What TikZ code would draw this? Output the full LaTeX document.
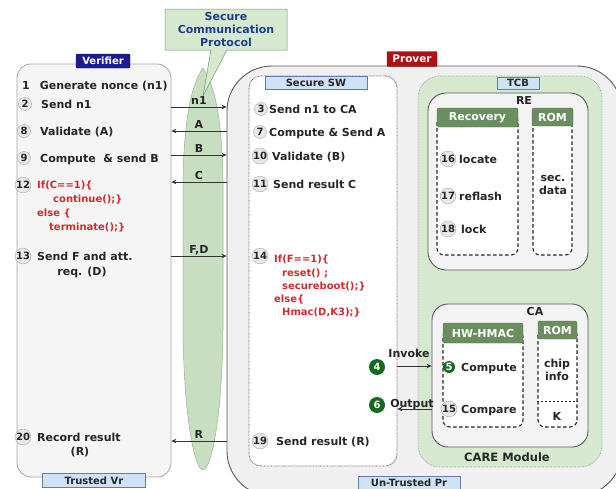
\documentclass[tikz,border=0pt]{standalone}
\usepackage{fontspec}
\setmainfont{DejaVu Sans}
\usetikzlibrary{shapes.callouts,arrows.meta}

\definecolor{codered}{RGB}{205,45,50}
\definecolor{navyfill}{RGB}{28,28,140}
\definecolor{provred}{RGB}{175,18,22}
\definecolor{tagblue}{RGB}{207,226,243}
\definecolor{tagedge}{RGB}{95,125,165}
\definecolor{tcbgreen}{RGB}{214,233,207}
\definecolor{changreen}{RGB}{200,222,192}
\definecolor{chanedge}{RGB}{150,180,145}
\definecolor{hdrgreen}{RGB}{106,142,96}
\definecolor{badgegreen}{RGB}{24,105,30}
\definecolor{calloutblue}{RGB}{30,60,140}
\definecolor{boxgray}{RGB}{243,243,243}

\begin{document}
\begin{tikzpicture}[x=1pt,y=-1pt,
  every node/.style={font=\bfseries\fontsize{11}{13}\selectfont, inner sep=0pt, text=black!85},
  txt/.style={anchor=west, text height=8pt, text depth=0pt},
  ctr/.style={anchor=center, text height=8pt, text depth=0pt},
  code/.style={anchor=west, text height=7.5pt, text depth=0pt, text=codered,
    font=\bfseries\fontsize{10}{12}\selectfont},
  num/.style={circle, draw=gray!70, fill=gray!18, minimum size=13pt,
    font=\bfseries\fontsize{10}{12}\selectfont},
  gnum/.style={circle, fill=badgegreen, text=white, minimum size=16pt,
    font=\bfseries\fontsize{10}{12}\selectfont},
  tag/.style={draw=tagedge, fill=tagblue, font=\bfseries\fontsize{10}{12}\selectfont},
  hdr/.style={fill=hdrgreen, draw=hdrgreen!80!black, text=white, rounded corners=1.5pt},
  dashbody/.style={draw=black!85, fill=white, line width=1.1pt,
    dash pattern=on 3.5pt off 2.5pt, rounded corners=7pt},
  inner/.style={draw=black!65, line width=0.9pt, fill=boxgray},
  msg/.style={draw=black!80, line width=0.8pt, -{Stealth[length=5pt,width=4.5pt]}},
  lbl/.style={midway, above=2.5pt, text height=8pt, text depth=0pt},
]
\useasboundingbox (0,0) rectangle (616,488);
\clip (0,0) rectangle (616,488);
\fill[white] (0,0) rectangle (616,488);

% ---------- the two parties ----------
\node[draw=gray!70, fill=black!4, line width=0.8pt, rounded corners=14pt,
  minimum width=154pt, minimum height=413pt] (vr) at (94,270.5) {};
\node[draw=black!65, fill=black!6, line width=0.9pt, rounded corners=45pt,
  minimum width=395pt, minimum height=430pt] (pr) at (424.5,281) {};

\node[fill=navyfill, draw=navyfill!70!black, text=white, rounded corners=1pt,
  minimum width=54pt, minimum height=14pt, font=\bfseries\fontsize{10}{12}\selectfont]
  (vlab) at (103,61) {Verifier};
\node[fill=provred, draw=provred!70!black, text=white, rounded corners=1pt,
  minimum width=50pt, minimum height=15pt, font=\bfseries\fontsize{10.5}{12}\selectfont]
  (plab) at (412,59) {Prover};
\node[tag, minimum width=103pt, minimum height=14pt] (tvr) at (94,480.5) {Trusted Vr};
\node[tag, minimum width=102pt, minimum height=13pt] (upr) at (409,483) {Un-Trusted Pr};

% ---------- secure channel ----------
\path[fill=changreen, draw=chanedge, line width=0.5pt]
  (203,68) .. controls (191,85) and (184,120) .. (183,180) -- (183,330)
  .. controls (184,420) and (195,470) .. (203,470)
  .. controls (211,470) and (222,420) .. (223,330) -- (223,180)
  .. controls (222,120) and (215,85) .. (203,68) -- cycle;
\node[rectangle callout, callout absolute pointer={(203,96)}, callout pointer width=16pt,
  fill=tcbgreen, draw=chanedge!80!black, line width=0.5pt, text=calloutblue,
  align=center, minimum width=122pt, minimum height=41pt]
  (scp) at (226,29.5) {Secure\\Communication\\Protocol};

% ---------- prover internals ----------
\node[draw=black!60, line width=0.8pt, dash pattern=on 0.7pt off 0.7pt, fill=white,
  rounded corners=12pt, minimum width=148pt, minimum height=390pt] (sw) at (323,271) {};
\node[tag, minimum width=102pt, minimum height=13pt] (swlab) at (316,83) {Secure SW};

\node[draw=gray!70, line width=0.8pt, dash pattern=on 0.7pt off 0.9pt, fill=tcbgreen,
  rounded corners=22pt, minimum width=184pt, minimum height=391pt] (tcb) at (510,271.5) {};
\node[tag, minimum width=42pt, minimum height=12pt] (tcblab) at (518,83) {TCB};

% recovery engine
\node[inner, rounded corners=18pt, minimum width=160pt, minimum height=177pt] (re) at (508,181.5) {};
\node[ctr] (relab) at (524,100) {RE};
\node[dashbody, minimum width=81pt, minimum height=140pt] (recB) at (477.5,185) {};
\node[dashbody, minimum width=39pt, minimum height=140pt] (romB) at (552.5,185) {};
\node[hdr, minimum width=81pt, minimum height=19pt] (recH) at (477.5,117.5) {Recovery};
\node[hdr, minimum width=41pt, minimum height=18pt] (romH) at (552.5,117) {ROM};

\node[num] (s16) at (448,159) {16}; \node[txt] (t16) at (459,159) {locate};
\node[num] (s17) at (448,196) {17}; \node[txt] (t17) at (459,196) {reflash};
\node[num] (s18) at (448,229) {18}; \node[txt] (t18) at (461,229) {lock};
\node[ctr] (sec1) at (553,177) {sec.};
\node[ctr] (sec2) at (553,190) {data};

% attestation engine
\node[inner, rounded corners=16pt, minimum width=156pt, minimum height=143pt] (ca) at (510,375.5) {};
\node[ctr] (calab) at (535,311) {CA};
\node[dashbody, minimum width=80pt, minimum height=97pt] (hmB) at (483,378.5) {};
\node[dashbody, minimum width=39pt, minimum height=99pt] (rom2B) at (557.5,377.5) {};
\draw[draw=black!85, line width=0.9pt, dash pattern=on 2pt off 2pt]
  (rom2B.west |- 0,401) -- (rom2B.east |- 0,401);
\node[hdr, minimum width=80pt, minimum height=20pt] (hmH) at (483,333) {HW-HMAC};
\node[hdr, minimum width=39pt, minimum height=18pt] (rom2H) at (557.5,330) {ROM};

\node[gnum, minimum size=12pt] (s5) at (449,367) {5}; \node[txt] (t5) at (461,367) {Compute};
\node[num] (s15) at (449,409) {15}; \node[txt] (t15) at (461,409) {Compare};
\node[ctr] (chip1) at (557,363) {chip};
\node[ctr] (chip2) at (557,376) {info};
\node[ctr] (kkey) at (557,416) {K};
\node[ctr, font=\bfseries\fontsize{11.5}{13}\selectfont] (care) at (507,457) {CARE Module};

% ---------- verifier steps ----------
\node[txt] (v1) at (22,85) {1\hspace{10pt}Generate nonce (n1)};
\node[num] (s2) at (25,104) {2};  \node[txt] (t2) at (41,104) {Send n1};
\node[num] (s8) at (24,131) {8};  \node[txt] (t8) at (40,131) {Validate (A)};
\node[num] (s9) at (24,158) {9};  \node[txt] (t9) at (40,158) {Compute\ \ \& send B};
\node[num] (s12) at (23,185) {12};
\node[code] (c12a) at (37,185) {If(C==1)\{};
\node[code] (c12b) at (53,199) {continue();\}};
\node[code] (c12c) at (37,213) {else \{};
\node[code] (c12d) at (49,227) {terminate();\}};
\node[num] (s13) at (23,256) {13}; \node[txt] (t13a) at (37,256) {Send F and att.};
\node[ctr] (t13b) at (82,271) {req. (D)};
\node[num] (s20) at (23,437) {20}; \node[txt] (t20a) at (37,437) {Record result};
\node[ctr] (t20b) at (80,451) {(R)};

% ---------- secure software steps ----------
\node[num] (s3) at (261,109) {3};  \node[txt] (t3) at (269,109) {Send n1 to CA};
\node[num] (s7) at (260,132) {7};  \node[txt] (t7) at (269,132) {Compute \& Send A};
\node[num] (s10) at (260,156) {10}; \node[txt] (t10) at (272,156) {Validate (B)};
\node[num] (s11) at (260,184) {11}; \node[txt] (t11) at (273,184) {Send result C};
\node[num] (s14) at (260,256) {14};
\node[code] (c14a) at (274,259) {If(F==1)\{};
\node[code] (c14b) at (282,273) {reset() ;};
\node[code] (c14c) at (282,286) {secureboot();\}};
\node[code] (c14d) at (274,299) {else\{};
\node[code] (c14e) at (282,312) {Hmac(D,K3);\}};
\node[num] (s19) at (260,441) {19}; \node[txt] (t19) at (276,441) {Send result (R)};

\node[gnum] (s4) at (377,367) {4};
\node[ctr] (inv) at (409,353) {Invoke};
\node[gnum] (s6) at (377,405) {6};
\node[ctr] (outp) at (412,403) {Output};

% ---------- messages ----------
\coordinate (yn1) at (0,107);
\coordinate (ya) at (0,131);
\coordinate (yb) at (0,155);
\coordinate (yc) at (0,182);
\coordinate (yfd) at (0,256);
\coordinate (yr) at (0,441);
\coordinate (yinv) at (0,366);
\coordinate (yout) at (0,409);

\draw[msg] (vr.east |- yn1) -- node[lbl] {n1} (pr.west |- yn1);
\draw[msg] (pr.west |- ya) -- node[lbl] {A} (vr.east |- ya);
\draw[msg] (vr.east |- yb) -- node[lbl] {B} (pr.west |- yb);
\draw[msg] (pr.west |- yc) -- node[lbl] {C} (vr.east |- yc);
\draw[msg] (vr.east |- yfd) -- node[lbl] {F,D} (pr.west |- yfd);
\draw[msg] (pr.west |- yr) -- node[lbl] {R} (vr.east |- yr);

\draw[msg] (sw.east |- yinv) -- (ca.west |- yinv);
\draw[msg] (ca.west |- yout) -- (sw.east |- yout);
\end{tikzpicture}
\end{document}
